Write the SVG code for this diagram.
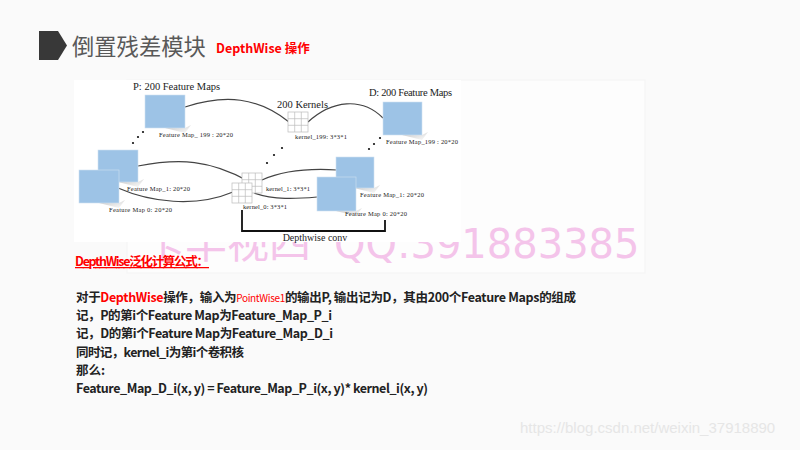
<svg xmlns="http://www.w3.org/2000/svg" width="800" height="450" viewBox="0 0 800 450">
<defs>
<style>
.serif{font-family:"Liberation Serif","Times New Roman",serif;fill:#222}
.lbl{font-size:6.5px}
.hdr{font-size:10.5px}
.sq{fill:#9dc3e6;stroke:#cfe0f0;stroke-width:0.6}
.conn{fill:none;stroke:#444;stroke-width:1.2}
.grid{fill:#fff;stroke:#bbb;stroke-width:0.7}
.dot{fill:#111}
.cjk{font-family:"Noto Sans CJK SC","Microsoft YaHei",sans-serif}
.body{font-size:12.5px;font-weight:bold;fill:#222}
.red{fill:#f00}
</style>
<linearGradient id="sh" x1="0" y1="0" x2="1" y2="1">
<stop offset="0" stop-color="#999" stop-opacity="0.7"/>
<stop offset="1" stop-color="#ddd" stop-opacity="0.2"/>
</linearGradient>
<g id="k3">
<rect class="grid" x="0" y="0" width="20" height="20"/>
<path d="M6.7,0V20M13.3,0V20M0,6.7H20M0,13.3H20" stroke="#bbb" stroke-width="0.7"/>
</g>
</defs>
<rect width="800" height="450" fill="#fafafa"/>
<rect x="127" y="80" width="518" height="193" fill="#fdfdfd" stroke="#f3f3f3" stroke-width="1"/>

<!-- watermark -->
<text x="143" y="258" font-family="Noto Sans CJK SC, sans-serif" font-size="42" fill="#f4c4ea">卡丰视四</text>
<text x="334" y="258" font-family="DejaVu Sans, sans-serif" font-size="40" fill="#f4c4ea">QQ:391883385</text>

<!-- title -->
<g id="title">
<polygon points="39,31 58,31 67,45.5 58,60 39,60" fill="#383838"/>
<text x="72" y="55" class="cjk" font-size="22.3" fill="#595959">倒置残差模块</text>
<text x="216" y="53" class="cjk" font-size="12.5" font-weight="bold" fill="#f00">DepthWise 操作</text>
</g>

<!-- diagram image -->
<g id="figure">
<rect x="74" y="80" width="387" height="162" fill="#fff"/>
<text class="serif hdr" x="133" y="90">P: 200 Feature Maps</text>
<text class="serif hdr" x="277" y="108">200 Kernels</text>
<text class="serif hdr" x="369" y="96" textLength="83">D:  200 Feature Maps</text>
</g>

<g id="connectors">
<path class="conn" d="M185,107 C225,94 258,97 289,122"/>
<path class="conn" d="M308,122 C332,100 362,97 383,118"/>
<path class="conn" d="M138,166 C180,158 210,160 248,181"/>
<path class="conn" d="M118,188 C150,202 195,208 233,192"/>
<path class="conn" d="M262,180 C282,171 305,168 337,170"/>
<path class="conn" d="M254,193 C275,200 295,199 317,197"/>
<path d="M242,210 V231 H385 V220" fill="none" stroke="#111" stroke-width="1.8"/>
</g>

<g id="p-fm199">
<polygon points="165,128 185,128 191,125 185,133" fill="url(#sh)"/>
<rect class="sq" x="145" y="95" width="40" height="33"/>
<text class="serif lbl" x="159" y="137" textLength="74">Feature Map_ 199 : 20*20</text>
</g>
<g id="p-fm1">
<polygon points="118,182 138,182 144,179 138,187" fill="url(#sh)"/>
<rect class="sq" x="98" y="150" width="40" height="32"/>
<text class="serif lbl" x="127" y="191" textLength="63">Feature Map_1: 20*20</text>
</g>
<g id="p-fm0">
<polygon points="99,203 119,203 125,200 119,208" fill="url(#sh)"/>
<rect class="sq" x="79" y="170" width="40" height="33"/>
<text class="serif lbl" x="109" y="212" textLength="63">Feature Map  0: 20*20</text>
</g>
<g id="p-dots">
<circle class="dot" cx="143" cy="132" r="1.1"/>
<circle class="dot" cx="138" cy="137" r="1.1"/>
<circle class="dot" cx="133" cy="143" r="1.1"/>
</g>

<g id="kernel199">
<use href="#k3" x="288" y="112"/>
<text class="serif lbl" x="295" y="139" textLength="52">kernel_199: 3*3*1</text>
</g>
<g id="kernel1">
<use href="#k3" x="242" y="173"/>
<text class="serif lbl" x="266" y="191" textLength="44">kernel_1: 3*3*1</text>
</g>
<g id="kernel0">
<use href="#k3" x="232" y="183"/>
<text class="serif lbl" x="243" y="209" textLength="44">kernel_0: 3*3*1</text>
</g>
<g id="k-dots">
<circle class="dot" cx="282" cy="148" r="1.1"/>
<circle class="dot" cx="274" cy="155" r="1.1"/>
<circle class="dot" cx="267" cy="163" r="1.1"/>
</g>

<g id="d-fm199">
<polygon points="402,135 422,135 428,132 422,140" fill="url(#sh)"/>
<rect class="sq" x="383" y="102" width="39" height="33"/>
<text class="serif lbl" x="386" y="144" textLength="72">Feature Map_199 : 20*20</text>
</g>
<g id="d-fm1">
<polygon points="354,188 374,188 380,185 374,193" fill="url(#sh)"/>
<rect class="sq" x="336" y="157" width="38" height="31"/>
<text class="serif lbl" x="360" y="197" textLength="64">Feature Map_1: 20*20</text>
</g>
<g id="d-fm0">
<polygon points="336,211 356,211 362,208 356,216" fill="url(#sh)"/>
<rect class="sq" x="317" y="177" width="39" height="34"/>
<text class="serif lbl" x="345" y="216" textLength="62">Feature Map  0: 20*20</text>
</g>
<g id="d-dots">
<circle class="dot" cx="380" cy="138" r="1.1"/>
<circle class="dot" cx="374" cy="144" r="1.1"/>
<circle class="dot" cx="369" cy="149" r="1.1"/>
</g>
<text class="serif" x="315" y="241" font-size="10" text-anchor="middle">Depthwise conv</text>

<!-- formula text -->
<g id="formula">
<text x="75" y="266" class="cjk" font-size="12.5" font-weight="bold" fill="#f00" text-decoration="underline" textLength="134">DepthWise泛化计算公式：</text>
<text x="76" y="302" class="cjk body" textLength="500">对于<tspan class="red">DepthWise</tspan>操作，输入为<tspan class="red" font-size="10" font-weight="normal">PointWise1</tspan>的输出P, 输出记为D，其由200个Feature Maps的组成</text>
<text x="76" y="320" class="cjk body" textLength="256">记，P的第i个Feature Map为Feature_Map_P_i</text>
<text x="76" y="338" class="cjk body" textLength="257">记，D的第i个Feature Map为Feature_Map_D_i</text>
<text x="76" y="357" class="cjk body" textLength="168">同时记，kernel_i为第i个卷积核</text>
<text x="76" y="375" class="cjk body">那么:</text>
<text x="76" y="393" class="cjk body" textLength="352">Feature_Map_D_i(x, y) = Feature_Map_P_i(x, y)* kernel_i(x, y)</text>
</g>

<text x="520" y="433" font-family="Liberation Sans, Arial, sans-serif" font-size="15" fill="#e6e6e6">https://blog.csdn.net/weixin_37918890</text>
</svg>
